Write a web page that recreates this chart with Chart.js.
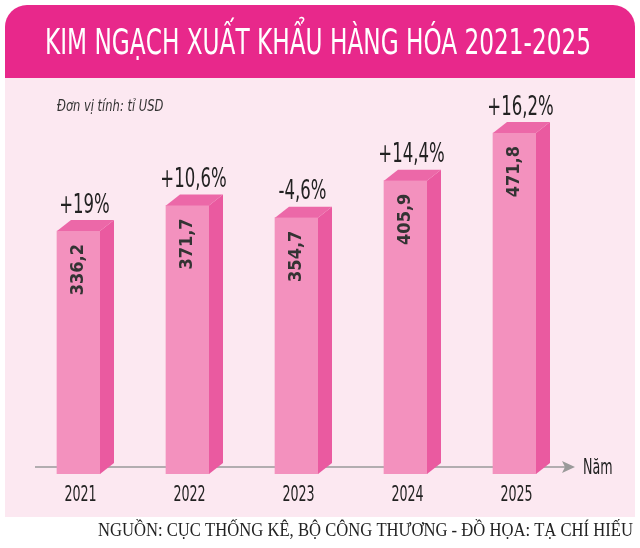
<!DOCTYPE html>
<html>
<head>
<meta charset="utf-8">
<script src="https://cdn.jsdelivr.net/npm/chart.js@4.4.1/dist/chart.umd.min.js"></script>
<style>
  html, body { margin: 0; padding: 0; background: #fff; }
</style>
</head>
<body>
<canvas id="chart" width="640" height="548"></canvas>
<script>
const years = ['2021', '2022', '2023', '2024', '2025']
const exportValues = [336.2, 371.7, 354.7, 405.9, 471.8]
const growthLabels = ['+19%', '+10,6%', '-4,6%', '+14,4%', '+16,2%']

const NARROW = '"Liberation Sans Narrow", "DejaVu Sans Condensed", "Roboto", sans-serif'
const DX = 14, DY = 11
const SQUEEZE = 0.64

// draw text squeezed horizontally, like a condensed face
function narrowText(ctx, text, x, y, sx) {
    ctx.save()
    ctx.translate(x, y)
    ctx.scale(sx, 1)
    ctx.fillText(text, 0, 0)
    ctx.restore()
}

// backgrounds, title, axis line
const frame = {
    id: 'frame',
    beforeDraw(chart) {
        const ctx = chart.ctx
        ctx.save()
        ctx.fillStyle = '#ffffff'
        ctx.fillRect(0, 0, 640, 548)
        // light panel
        ctx.fillStyle = '#fce8f1'
        ctx.fillRect(5, 70, 630, 447)
        // magenta banner with rounded top
        ctx.fillStyle = '#e8288b'
        ctx.beginPath()
        ctx.roundRect(5, 5, 630, 73, [22, 22, 0, 0])
        ctx.fill()
        // title
        ctx.fillStyle = '#ffffff'
        ctx.font = '35px ' + NARROW
        ctx.textAlign = 'center'
        ctx.textBaseline = 'middle'
        ctx.fillText('KIM NGẠCH XUẤT KHẨU HÀNG HÓA 2021-2025', 318, 45, 546)
        // unit
        ctx.fillStyle = '#333333'
        ctx.font = 'italic 16px ' + NARROW
        ctx.textAlign = 'left'
        narrowText(ctx, 'Đơn vị tính: tỉ USD', 57, 107, 0.8)
        // source
        ctx.fillStyle = '#222222'
        ctx.font = '18px "Liberation Serif", serif'
        ctx.textAlign = 'right'
        ctx.fillText('NGUỒN: CỤC THỐNG KÊ, BỘ CÔNG THƯƠNG - ĐỒ HỌA: TẠ CHÍ HIẾU', 633, 531, 535)
        ctx.restore()
    },
    beforeDatasetsDraw(chart) {
        const ctx = chart.ctx
        ctx.save()
        ctx.strokeStyle = '#9a9a9a'
        ctx.lineWidth = 1.5
        ctx.beginPath()
        ctx.moveTo(35, 467)
        ctx.lineTo(566, 467)
        ctx.stroke()
        ctx.fillStyle = '#9a9a9a'
        ctx.beginPath()
        ctx.moveTo(575, 467)
        ctx.lineTo(562, 461)
        ctx.lineTo(565, 467)
        ctx.lineTo(562, 473)
        ctx.closePath()
        ctx.fill()
        ctx.fillStyle = '#222222'
        ctx.font = '22px ' + NARROW
        ctx.textAlign = 'left'
        ctx.textBaseline = 'middle'
        narrowText(ctx, 'Năm', 583, 468, SQUEEZE)
        ctx.restore()
    }
}

// 3D side/top faces and labels, placed from the bar elements
const bars3d = {
    id: 'bars3d',
    afterDatasetsDraw(chart) {
        const ctx = chart.ctx
        const meta = chart.getDatasetMeta(0)
        ctx.save()
        meta.data.forEach((bar, i) => {
            const left = bar.x - bar.width / 2
            const right = bar.x + bar.width / 2
            const top = bar.y
            const bottom = bar.base
            // side
            ctx.fillStyle = '#ea5aa0'
            ctx.beginPath()
            ctx.moveTo(right, top)
            ctx.lineTo(right + DX, top - DY)
            ctx.lineTo(right + DX, bottom - DY)
            ctx.lineTo(right, bottom)
            ctx.closePath()
            ctx.fill()
            // top
            ctx.fillStyle = '#ec68a8'
            ctx.beginPath()
            ctx.moveTo(left, top)
            ctx.lineTo(left + DX, top - DY)
            ctx.lineTo(right + DX, top - DY)
            ctx.lineTo(right, top)
            ctx.closePath()
            ctx.fill()
            // growth label
            ctx.fillStyle = '#222222'
            ctx.font = '27px ' + NARROW
            ctx.textAlign = 'center'
            ctx.textBaseline = 'bottom'
            narrowText(ctx, growthLabels[i], bar.x + 6, top - DY - 1, 0.68)
            // value label, rotated
            ctx.save()
            ctx.translate(bar.x, top + 13)
            ctx.rotate(-Math.PI / 2)
            ctx.font = 'bold 18px ' + NARROW
            ctx.fillStyle = '#333333'
            ctx.textAlign = 'right'
            ctx.textBaseline = 'middle'
            ctx.fillText(String(exportValues[i]).replace('.', ','), 0, 0)
            ctx.restore()
            // year
            ctx.fillStyle = '#222222'
            ctx.font = '22px ' + NARROW
            ctx.textAlign = 'center'
            ctx.textBaseline = 'middle'
            narrowText(ctx, years[i], bar.x + 2, 495, SQUEEZE)
        })
        ctx.restore()
    }
}

new Chart(document.getElementById('chart'), {
    type: 'bar',
    data: {
        labels: years,
        datasets: [{
            data: exportValues,
            backgroundColor: '#f391be',
            borderWidth: 0,
            barThickness: 43
        }]
    },
    options: {
        responsive: false,
        animation: false,
        devicePixelRatio: 1,
        layout: { padding: { top: 91, bottom: 74, left: 24, right: 71 } },
        plugins: { legend: { display: false }, tooltip: { enabled: false } },
        scales: {
            x: { display: false },
            y: { display: false, min: 0, max: 530 }
        }
    },
    plugins: [frame, bars3d]
})
</script>
</body>
</html>
